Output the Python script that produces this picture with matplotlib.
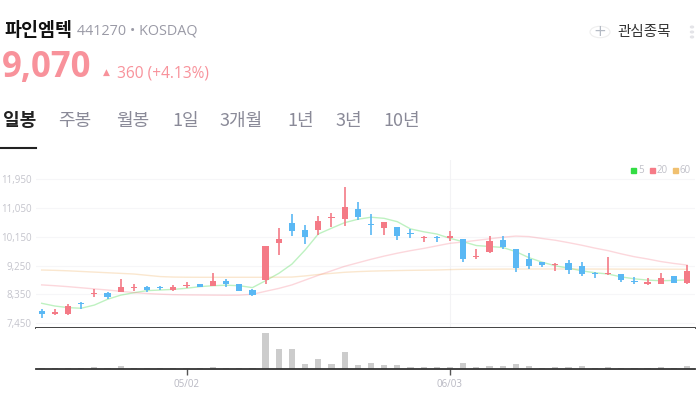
import matplotlib
matplotlib.use('Agg')
import matplotlib.pyplot as plt
import numpy as np

plt.rcParams['font.family'] = ['Noto Sans CJK KR', 'DejaVu Sans']

# daily candles (open, high, low, close)
opens = [7834, 7731, 7731, 8094, 8380, 8406, 8419, 8550, 8584, 8555,
         8500, 8615, 8678, 8625, 8772, 8669, 8481, 8813, 9959, 10584,
         10366, 10366, 10750, 10719, 11022, 10530, 10438, 10459, 10250, 10100,
         10112, 10125, 10084, 9535, 9688, 10053, 9772, 9469, 9356, 9270,
         9334, 9241, 8998, 8975, 8981, 8738, 8693, 8688, 8928, 8710]
highs = [7897, 7887, 8053, 8125, 8512, 8428, 8834, 8678, 8616, 8625,
         8638, 8741, 8678, 9022, 8834, 8690, 8512, 9856, 10428, 10866,
         10522, 10803, 10906, 11719, 11241, 10866, 10616, 10459, 10388, 10178,
         10178, 10344, 10084, 9772, 10178, 10178, 9772, 9647, 9356, 9334,
         9438, 9366, 9053, 9522, 8981, 8897, 8866, 9013, 8928, 9270]
lows = [7625, 7700, 7700, 7897, 8263, 8209, 8419, 8459, 8419, 8481,
        8469, 8553, 8584, 8606, 8584, 8450, 8303, 8688, 9584, 10178,
        9938, 10209, 10469, 10481, 10678, 10219, 10219, 10063, 10125, 10000,
        10000, 10022, 9375, 9459, 9656, 9763, 9063, 9147, 9219, 9084,
        9000, 8938, 8875, 8963, 8750, 8688, 8656, 8688, 8710, 8690]
closes = [7731, 7794, 7991, 8044, 8395, 8272, 8584, 8570, 8490, 8540,
          8584, 8630, 8584, 8781, 8678, 8469, 8344, 9856, 10084, 10344,
          10156, 10647, 10770, 11084, 10763, 10515, 10616, 10188, 10235, 10115,
          10100, 10178, 9459, 9550, 10022, 9825, 9178, 9250, 9281, 9285,
          9116, 9000, 8985, 8990, 8794, 8725, 8708, 8866, 8710, 9070]
volumes = [3, 2, 2, 3, 6, 2, 9, 3, 2, 2,
           2, 2, 2, 6, 2, 2, 2, 108, 60, 60,
           15, 31, 16, 50, 12, 17, 12, 12, 6, 5,
           6, 6, 17, 6, 9, 9, 16, 9, 3, 6,
           6, 9, 3, 6, 3, 2, 2, 6, 3, 9]

# moving averages
ma5 = [8075, 7990, 7940, 7920, 8020, 8200, 8330, 8405, 8470, 8490,
       8510, 8545, 8595, 8625, 8640, 8625, 8565, 8780, 9010, 9300,
       9740, 10240, 10420, 10595, 10700, 10765, 10730, 10625, 10400, 10310,
       10240, 10105, 10000, 9880, 9850, 9820, 9690, 9500, 9360, 9245,
       9175, 9090, 9030, 8990, 8900, 8840, 8800, 8780, 8790, 8805]
ma20 = [8650, 8625, 8595, 8560, 8525, 8490, 8450, 8410, 8380, 8360,
        8345, 8338, 8334, 8330, 8327, 8330, 8356, 8450, 8540, 8650,
        8800, 8950, 9090, 9230, 9340, 9450, 9550, 9640, 9720, 9790,
        9870, 9950, 9990, 10040, 10090, 10140, 10175, 10160, 10100, 10045,
        9970, 9890, 9800, 9720, 9620, 9530, 9460, 9380, 9320, 9270]
ma60 = [9115, 9105, 9090, 9070, 9050, 9030, 9010, 8990, 8950, 8910,
        8895, 8890, 8888, 8888, 8888, 8888, 8888, 8888, 8890, 8895,
        8930, 8975, 9010, 9044, 9065, 9080, 9090, 9098, 9105, 9110,
        9116, 9128, 9138, 9140, 9142, 9144, 9145, 9146, 9147, 9147,
        9147, 9146, 9145, 9144, 9143, 9142, 9141, 9140, 9140, 9138]

y_ticks = [7450, 8350, 9250, 10150, 11050, 11950]
x_tick_pos = [11, 31]
x_tick_labels = ['05/02', '06/03']
tabs = ['일봉', '주봉', '월봉', '1일', '3개월', '1년', '3년', '10년']
tab_x = [3, 58, 116, 172, 220, 287, 335, 383]

UP = '#f47a86'
DOWN = '#5ab8f4'


def px(x, y):
    return x / 700, 1 - y / 400


def main():
    fig = plt.figure(figsize=(7, 4), dpi=100)
    fig.patch.set_facecolor('white')

    # header
    fig.text(*px(4, 31), '파인엠텍', fontsize=13.3, fontweight='bold', color='#111111', va='center')
    fig.text(*px(77, 31), '441270 • KOSDAQ', fontsize=10.4, color='#9a9aa6', va='center',
             family=['Open Sans', 'DejaVu Sans'])
    fig.text(*px(2, 68), '9,070', fontsize=25, fontweight='bold', color='#f8929b', va='center',
             family=['Open Sans', 'DejaVu Sans'])
    fig.text(*px(103, 72), '▲', fontsize=6.5, color='#f8929b', va='center', family=['DejaVu Sans'])
    fig.text(*px(117, 73), '360 (+4.13%)', fontsize=11.2, color='#f8929b', va='center',
             family=['Open Sans', 'DejaVu Sans'])

    for i, (t, x) in enumerate(zip(tabs, tab_x)):
        if i == 0:
            fig.text(*px(x, 121), t, fontsize=13, fontweight='bold', color='#222222', va='center')
        else:
            fig.text(*px(x, 121), t, fontsize=13, color='#8a8a98', va='center')
    fig.add_artist(plt.Line2D([0, 36 / 700], [1 - 148 / 400] * 2, color='#222222', lw=1.5))

    # watch button
    fig.add_artist(matplotlib.patches.Circle(px(600, 32), 10 / 700, transform=fig.transFigure,
                                             facecolor='white', edgecolor='#eeeeee', lw=0.8))
    fig.text(*px(600, 32), '+', fontsize=11, color='#b4bac4', ha='center', va='center',
             family=['DejaVu Sans'])
    fig.text(*px(617, 32), '관심종목', fontsize=10.5, color='#333333', va='center')
    for dy in (27, 32, 37):
        fig.add_artist(matplotlib.patches.Circle(px(692, dy), 1.5 / 700, transform=fig.transFigure,
                                                 color='#e4e4e8'))

    # price panel
    ax = fig.add_axes([36 / 700, 1 - 328 / 400, 659 / 700, 168 / 400])
    xs = np.arange(len(closes))
    for i in xs:
        o, h, l, c = opens[i], highs[i], lows[i], closes[i]
        col = UP if c >= o else DOWN
        ax.vlines(i, l, h, color=col, lw=1.2, zorder=3)
        bot = min(o, c)
        hgt = max(abs(c - o), 32)
        ax.bar(i, hgt, bottom=bot, width=0.47, color=col, zorder=4, linewidth=0)

    ax.plot(xs, ma5, color='#47d94f', lw=1, alpha=0.35, zorder=2)
    ax.plot(xs, ma20, color='#f67b8b', lw=1, alpha=0.3, zorder=2)
    ax.plot(xs, ma60, color='#f0b060', lw=1, alpha=0.3, zorder=2)

    ax.set_xlim(-0.43, 49.6)
    ax.set_ylim(7303, 12553)
    ax.set_yticks(y_ticks)
    ax.set_yticklabels(['{:,}'.format(v) for v in y_ticks])
    ax.tick_params(axis='y', length=0, pad=3, labelsize=7, labelcolor='#c4c4cc')
    ax.tick_params(axis='x', length=0, labelbottom=False)
    for v in y_ticks:
        ax.axhline(v, color='#f6f6f8', lw=0.8, zorder=0)
    ax.axvline(31, color='#f3f3f5', lw=0.8, zorder=0)
    for s in ('top', 'right', 'left'):
        ax.spines[s].set_visible(False)
    ax.spines['bottom'].set_color('#333333')
    ax.spines['bottom'].set_linewidth(1.3)
    for lab in ax.get_yticklabels():
        lab.set_family(['Open Sans', 'DejaVu Sans'])

    # legend
    for x, col, lab in [(631, '#33dd44', '5'), (650, '#f67b87', '20'), (673, '#f0c070', '60')]:
        fig.add_artist(matplotlib.patches.Rectangle(px(x, 173), 5 / 700, 5 / 400,
                                                    transform=fig.transFigure, color=col))
        fig.text(*px(x + 7, 170.5), lab, fontsize=7, color='#c0c0c8', va='center',
                 family=['Open Sans', 'DejaVu Sans'])

    # volume panel
    av = fig.add_axes([36 / 700, 1 - 369 / 400, 659 / 700, 41 / 400])
    av.bar(xs, volumes, width=0.47, color='#cccccc', linewidth=0)
    av.set_xlim(-0.43, 49.6)
    av.set_ylim(0, 123)
    av.set_yticks([])
    av.set_xticks(x_tick_pos)
    av.set_xticklabels(x_tick_labels, family=['Open Sans', 'DejaVu Sans'])
    av.tick_params(axis='x', length=4, width=1, color='#555555', labelsize=7,
                   labelcolor='#b8b8c2', pad=3)
    for s in ('top', 'right', 'left'):
        av.spines[s].set_visible(False)
    av.spines['bottom'].set_color('#333333')
    av.spines['bottom'].set_linewidth(1.3)

    fig.savefig('out.png', dpi=100)


if __name__ == '__main__':
    main()
